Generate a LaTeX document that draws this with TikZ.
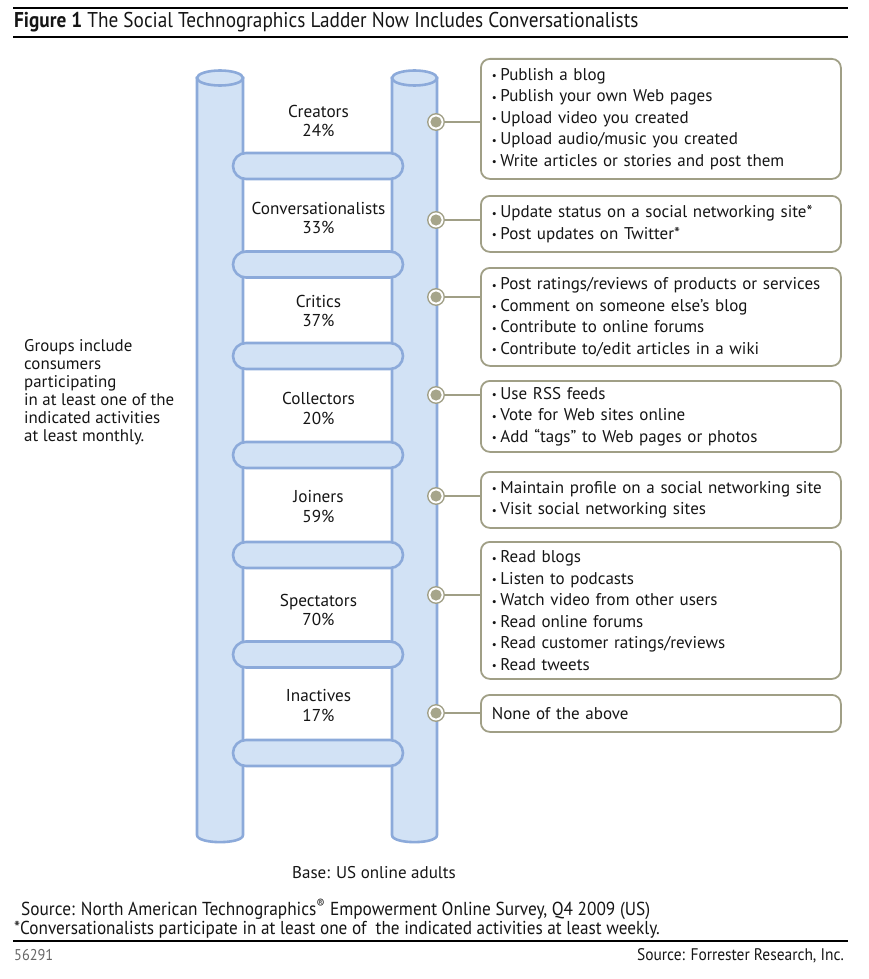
\documentclass[tikz,border=0pt]{standalone}
\usepackage{fontspec}
\setmainfont{PT Sans}
\newfontfamily\condfont[FakeStretch=0.9]{PT Sans}
\newfontfamily\footfont[FakeStretch=0.92]{PT Sans}
\definecolor{railfill}{HTML}{D2E2F5}
\definecolor{railline}{HTML}{8CAADA}
\definecolor{olive}{HTML}{A09F86}
\definecolor{dotfill}{HTML}{A6A58A}
\definecolor{txt}{HTML}{151515}
\newcommand\bl{\makebox[8.5pt][l]{\raisebox{0.5pt}{\fontsize{11}{11}\selectfont •}}}
\begin{document}
\begin{tikzpicture}[x=1pt,y=-1pt,
  rail/.style={fill=railfill,draw=railline,line width=2.6pt},
  rung/.style={fill=railfill,draw=railline,line width=2.6pt,rounded corners=13pt},
  lbl/.style={align=center,text=txt,font=\fontsize{17.2}{19.5}\selectfont,inner sep=0pt},
  actbox/.style={draw=olive,line width=1.8pt,rounded corners=9pt,anchor=north west,
    minimum width=360pt,text width=338pt,inner xsep=11pt,inner ysep=0pt,align=left,
    text=txt,font=\fontsize{17}{21.5}\selectfont},
  dot/.style={circle,draw=olive,line width=1.3pt,fill=white,minimum size=16.5pt,inner sep=0pt,
    path picture={\fill[dotfill] (path picture bounding box.center) circle[radius=5.6pt];}},
  conn/.style={draw=olive,line width=1.8pt},
  rule/.style={line width=1.1pt,black}]
\useasboundingbox (0,0) rectangle (869,979);

% title
\draw[rule] (13,8) -- (848,8);
\draw[rule] (13,37) -- (848,37);
\node[anchor=base west,inner sep=0pt,text=txt] (title) at (14,28)
  {\condfont\fontsize{21.4}{22}\selectfont\textbf{Figure 1} The Social Technographics Ladder Now Includes Conversationalists};

% rails
\filldraw[rail] (197,78) -- (197,835) .. controls (197,844.5) and (243,844.5) .. (243,835) -- (243,78) -- cycle;
\filldraw[rail] (220,78) ellipse[x radius=23pt,y radius=7.5pt];
\filldraw[rail] (392,78) -- (392,835) .. controls (392,844.5) and (437,844.5) .. (437,835) -- (437,78) -- cycle;
\filldraw[rail] (414.5,78) ellipse[x radius=22.5pt,y radius=7.5pt];

% rungs
\foreach \y in {166,264.5,356,455,555,654.5,753}
  \filldraw[rung] (233,\y-13) rectangle (403,\y+13);

% ladder labels
\node[lbl] (l1) at (318.5,121) {Creators\\24\%};
\node[lbl] (l2) at (318.5,218) {Conversationalists\\33\%};
\node[lbl] (l3) at (318.5,311) {Critics\\37\%};
\node[lbl] (l4) at (318.5,408.5) {Collectors\\20\%};
\node[lbl] (l5) at (318.5,506.5) {Joiners\\59\%};
\node[lbl] (l6) at (318.5,610) {Spectators\\70\%};
\node[lbl] (l7) at (318.5,705.5) {Inactives\\17\%};

% activity boxes
\node[actbox,minimum height=120pt] (b1) at (480,58)
  {\bl Publish a blog\\\bl Publish your own Web pages\\\bl Upload video you created\\\bl Upload audio/music you created\\\bl Write articles or stories and post them};
\node[actbox,minimum height=56pt] (b2) at (480,195)
  {\bl Update status on a social networking site*\\\bl Post updates on Twitter*};
\node[actbox,minimum height=98pt] (b3) at (480,267)
  {\bl Post ratings/reviews of products or services\\\bl Comment on someone else’s blog\\\bl Contribute to online forums\\\bl Contribute to/edit articles in a wiki};
\node[actbox,minimum height=71pt] (b4) at (480,380)
  {\bl Use RSS feeds\\\bl Vote for Web sites online\\\bl Add “tags” to Web pages or photos};
\node[actbox,minimum height=56pt] (b5) at (480,471)
  {\bl Maintain profile on a social networking site\\\bl Visit social networking sites};
\node[actbox,minimum height=137pt] (b6) at (480,541)
  {\bl Read blogs\\\bl Listen to podcasts\\\bl Watch video from other users\\\bl Read online forums\\\bl Read customer ratings/reviews\\\bl Read tweets};
\node[actbox,minimum height=37pt] (b7) at (480,694)
  {None of the above};

% dots and connectors
\foreach \i/\y in {1/122,2/220,3/297,4/395,5/496,6/595,7/713} {
  \node[dot] (d\i) at (436,\y) {};
  \draw[conn] (d\i.east) -- (d\i.east -| b\i.west);
}

% side note
\node[anchor=north west,align=left,inner sep=0pt,text=txt,font=\fontsize{16.9}{18}\selectfont] (groups) at (24,339.5)
  {Groups include\\consumers\\participating\\in at least one of the\\indicated activities\\at least monthly.};

\node[inner sep=0pt,text=txt,font=\fontsize{17}{18}\selectfont] (base) at (374,873) {Base: US online adults};

% footer
\node[anchor=base west,inner sep=0pt,text=txt] (src) at (21,915)
  {\footfont\fontsize{18.8}{19}\selectfont Source: North American Technographics\textsuperscript{®} Empowerment Online Survey, Q4 2009 (US)};
\node[anchor=base west,inner sep=0pt,text=txt] (note) at (14,934)
  {\footfont\fontsize{18.7}{19}\selectfont *Conversationalists participate in at least one of \ the indicated activities at least weekly.};
\draw[rule] (13,941) -- (848,941);
\node[anchor=base west,inner sep=0pt,text=black!60] (num) at (14,960)
  {\footfont\fontsize{15.6}{16}\selectfont 56291};
\node[anchor=base east,inner sep=0pt,text=txt] (fr) at (844,960)
  {\footfont\fontsize{16.8}{17}\selectfont Source: Forrester Research, Inc.};
\end{tikzpicture}
\end{document}
